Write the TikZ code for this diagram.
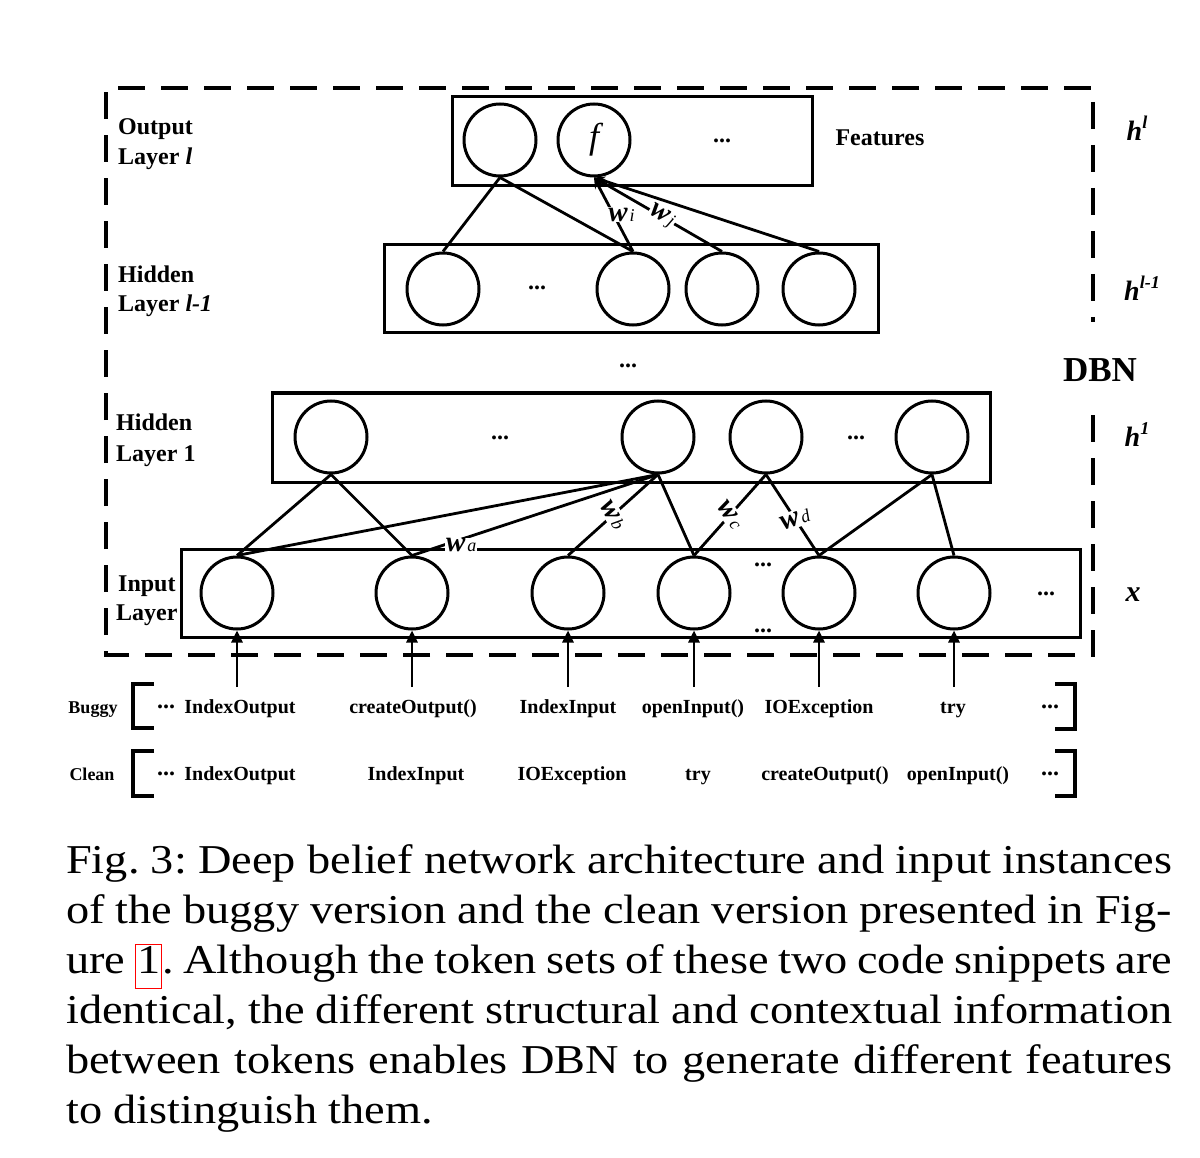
\documentclass[tikz,border=0pt]{standalone}
\usepackage{fontspec}
\setmainfont{Liberation Serif}
\newfontfamily\capfont[FakeStretch=1.13]{Liberation Serif}
\usetikzlibrary{arrows.meta}
\newcommand{\wl}[2]{{\fontsize{29}{29}\selectfont\bfseries\itshape #1}\kern2pt{\fontsize{18}{18}\selectfont\itshape #2}}
\newcommand{\hsup}[2]{{\fontsize{28}{28}\selectfont\bfseries\itshape #1}\raisebox{12pt}{\fontsize{18}{18}\selectfont\bfseries\itshape #2}}
\newcommand{\redbox}[1]{\begingroup\color{red}\setlength{\fboxrule}{1.2pt}\setlength{\fboxsep}{0pt}\fbox{\color{black}\rule[-15pt]{0pt}{43pt}\hspace{1pt}#1\hspace{1pt}}\endgroup}
\begin{document}
\frenchspacing
\begin{tikzpicture}[x=1pt,y=-1pt,
  neuron/.style={circle,draw,line width=3pt,minimum size=72pt,inner sep=0pt,fill=white},
  layerbox/.style={draw,line width=3pt,inner sep=0pt},
  conn/.style={line width=2.8pt},
  arr/.style={-{Stealth[length=11pt,width=9pt]}},
  inarr/.style={-{Triangle[length=12pt,width=11pt]}},
  frame/.style={line width=3.5pt,dash pattern=on 27pt off 16pt},
  brk/.style={line width=4pt},
  lbl/.style={font=\fontsize{24}{24}\selectfont\bfseries,anchor=base west,inner sep=0pt},
  tok/.style={font=\fontsize{20}{20}\selectfont\bfseries,anchor=base,inner sep=0pt},
  dots/.style={font=\fontsize{24}{24}\selectfont\bfseries,inner sep=0pt},
  wlab/.style={fill=white,inner sep=2pt},
  capline/.style={font=\fontsize{41}{41}\selectfont\capfont,anchor=base west,inner sep=0pt},
]
\useasboundingbox (0,0) rectangle (1200,1158);

% dashed frame
\draw[frame] (1093,415) -- (1093,655) -- (106,655) -- (106,88) -- (1093,88) -- (1093,322);

% layer boxes
\node[layerbox,minimum width=360pt,minimum height=89pt] (outbox) at (632,141.5) {};
\node[layerbox,minimum width=494pt,minimum height=88pt] (hAbox) at (631,289) {};
\node[layerbox,minimum width=718pt,minimum height=89pt] (hBbox) at (631,437.5) {};
\node[layerbox,minimum width=899pt,minimum height=88pt] (inbox) at (630.5,593) {};

% neurons
\node[neuron] (o1) at (500,140) {};
\node[neuron,font=\fontsize{36}{36}\selectfont\itshape] (of) at (594,140) {f};
\node[neuron] (hA1) at (443,289) {};
\node[neuron] (hA2) at (633,289) {};
\node[neuron] (hA3) at (722,289) {};
\node[neuron] (hA4) at (819,289) {};
\node[neuron] (hB1) at (331,437) {};
\node[neuron] (hB2) at (658,437) {};
\node[neuron] (hB3) at (766,437) {};
\node[neuron] (hB4) at (932,437) {};
\node[neuron] (i1) at (237,593) {};
\node[neuron] (i2) at (412,593) {};
\node[neuron] (i3) at (568,593) {};
\node[neuron] (i4) at (694,593) {};
\node[neuron] (i5) at (819,593) {};
\node[neuron] (i6) at (954,593) {};

% dots
\node[dots] (d1) at (722,141) {...};
\node[dots] (d2) at (537,288) {...};
\node[dots] (d3) at (628,366) {...};
\node[dots] (d4) at (500,438) {...};
\node[dots] (d5) at (856,438) {...};
\node[dots] (d6) at (763,565) {...};
\node[dots] (d7) at (763,631) {...};
\node[dots] (d8) at (1046,594) {...};

% output connections
\draw[conn] (o1.south) -- (hA1.north);
\draw[conn] (o1.south) -- (hA2.north);
\draw[conn,arr] (hA2.north) -- node[wlab,pos=0.5,xshift=8pt,inner sep=1pt]{\wl{w}{i}} (of.south);
\draw[conn,arr] (hA3.north) -- node[wlab,pos=0.47,rotate=-31,inner sep=1pt]{\wl{w}{j}} (of.south);
\draw[conn,arr] (hA4.north) -- (of.south);

% input connections
\draw[conn] (hB1.south) -- (i1.north);
\draw[conn] (hB1.south) -- (i2.north);
\draw[conn] (hB2.south) -- (i1.north);
\draw[conn] (hB2.south) -- node[wlab,pos=0.8,yshift=-6pt,inner sep=1pt]{\wl{w}{a}} (i2.north);
\draw[conn] (hB2.south) -- node[wlab,rotate=-60,inner sep=2pt]{\wl{w}{b}} (i3.north);
\draw[conn] (hB2.south) -- (i4.north);
\draw[conn] (i4.north) -- node[wlab,rotate=-55,inner sep=2pt]{\wl{w}{c}} (hB3.south);
\draw[conn] (hB3.south) -- node[wlab,pos=0.55,rotate=20,inner sep=2pt]{\wl{w}{d}} (i5.north);
\draw[conn] (hB4.south) -- (i5.north);
\draw[conn] (hB4.south) -- (i6.north);

% input arrows
\coordinate (a1) at (237,687);
\coordinate (a2) at (412,687);
\coordinate (a3) at (568,687);
\coordinate (a4) at (694,687);
\coordinate (a5) at (819,687);
\coordinate (a6) at (954,687);
\draw[conn,inarr] (a1) -- (i1.south);
\draw[conn,inarr] (a2) -- (i2.south);
\draw[conn,inarr] (a3) -- (i3.south);
\draw[conn,inarr] (a4) -- (i4.south);
\draw[conn,inarr] (a5) -- (i5.south);
\draw[conn,inarr] (a6) -- (i6.south);

% left labels
\node[lbl] (l1a) at (118,135) {Output};
\node[lbl] (l1b) at (118,165) {Layer \textit{l}};
\node[lbl] (l2a) at (118,283) {Hidden};
\node[lbl] (l2b) at (118,312) {Layer \textit{l-1}};
\node[lbl] (l3a) at (116,430) {Hidden};
\node[lbl] (l3b) at (116,461) {Layer 1};
\node[lbl] (l4a) at (118,591) {Input};
\node[lbl] (l4b) at (116,620) {Layer};

% right labels
\node[font=\fontsize{24}{24}\selectfont\bfseries,inner sep=0pt] (feat) at (880,138) {Features};
\node[inner sep=0pt] (rh1) at (1137,128) {\hsup{h}{l}};
\node[inner sep=0pt] (rh2) at (1142,288) {\hsup{h}{l-1}};
\node[font=\fontsize{35}{35}\selectfont\bfseries,inner sep=0pt] (dbn) at (1100,370) {DBN};
\node[inner sep=0pt] (rh3) at (1137,435) {\hsup{h}{1}};
\node[font=\fontsize{30}{30}\selectfont\bfseries\itshape,inner sep=0pt] (rx) at (1133,595) {x};

% token rows
\node[font=\fontsize{18}{18}\selectfont\bfseries,anchor=base,inner sep=0pt] (buggy) at (93,713) {Buggy};
\node[font=\fontsize{18}{18}\selectfont\bfseries,anchor=base,inner sep=0pt] (clean) at (92,780) {Clean};
\draw[brk] (154,684) -- (133,684) -- (133,728) -- (154,728);
\draw[brk] (154,751) -- (133,751) -- (133,796) -- (154,796);
\draw[brk] (1055,684) -- (1075,684) -- (1075,729) -- (1055,729);
\draw[brk] (1055,751) -- (1075,751) -- (1075,796) -- (1055,796);
\node[dots] (bl) at (166,707) {...};
\node[dots] (br) at (1050,707) {...};
\node[dots] (cl) at (166,774) {...};
\node[dots] (cr) at (1050,774) {...};
\node[tok] (b1) at (240,713) {IndexOutput};
\node[tok] (b2) at (413,713) {createOutput()};
\node[tok] (b3) at (568,713) {IndexInput};
\node[tok] (b4) at (693,713) {openInput()};
\node[tok] (b5) at (819,713) {IOException};
\node[tok] (b6) at (953,713) {try};
\node[tok] (c1) at (240,780) {IndexOutput};
\node[tok] (c2) at (416,780) {IndexInput};
\node[tok] (c3) at (572,780) {IOException};
\node[tok] (c4) at (698,780) {try};
\node[tok] (c5) at (825,780) {createOutput()};
\node[tok] (c6) at (958,780) {openInput()};

% caption
\node[capline] (cap1) at (66,873) {\makebox[1106pt][s]{Fig. 3: Deep belief network architecture and input instances}};
\node[capline] (cap2) at (66,923) {\makebox[1106pt][s]{of the buggy version and the clean version presented in Fig-}};
\node[capline] (cap3) at (66,973) {\makebox[1106pt][s]{ure \redbox{1}. Although the token sets of these two code snippets are}};
\node[capline] (cap4) at (66,1023) {\makebox[1106pt][s]{identical, the different structural and contextual information}};
\node[capline] (cap5) at (66,1073) {\makebox[1106pt][s]{between tokens enables DBN to generate different features}};
\node[capline] (cap6) at (66,1123) {to distinguish them.};
\end{tikzpicture}
\end{document}
